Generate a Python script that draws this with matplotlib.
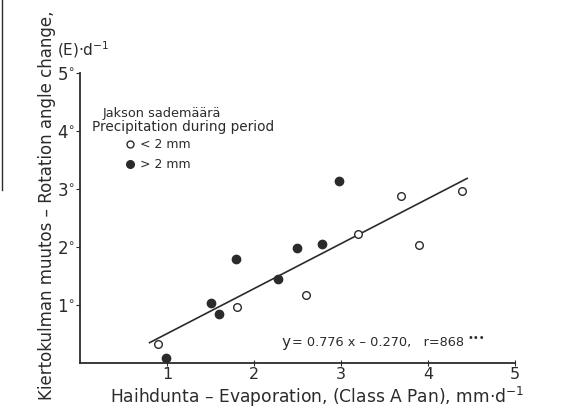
import numpy as np
import matplotlib
matplotlib.use('Agg')
import matplotlib.pyplot as plt
from matplotlib.lines import Line2D

# Haihdunta (mm/d) ja kiertokulman muutos (astetta/d)
x_vahan = [0.90, 1.80, 2.60, 3.20, 3.69, 3.90, 4.39]   # sade < 2 mm
y_vahan = [0.32, 0.97, 1.17, 2.22, 2.88, 2.03, 2.96]
x_paljon = [0.99, 1.50, 1.60, 1.79, 2.28, 2.49, 2.78, 2.98]   # sade > 2 mm
y_paljon = [0.08, 1.03, 0.84, 1.79, 1.44, 1.99, 2.06, 3.14]

# Regressiosuora
a, b = 0.776, -0.270
x_suora = [0.80, 4.45]

tikit = [1, 2, 3, 4, 5]
vari = '#2b2b2b'

fig = plt.figure(figsize=(5.72, 4.08), dpi=100)
ax = fig.add_axes([80/572, 45/408, 435/572, 290/408])

ax.plot(x_suora, [a*x + b for x in x_suora], color=vari, lw=1.2)
ax.plot(x_vahan, y_vahan, 'o', ms=5.5, mfc='white', mec=vari, mew=1.0, clip_on=False)
ax.plot(x_paljon, y_paljon, 'o', ms=6, mfc=vari, mec=vari, clip_on=False)

ax.set_xlim(0, 5)
ax.set_ylim(0, 5)
for s in ['top', 'right']:
    ax.spines[s].set_visible(False)
for s in ['left', 'bottom']:
    ax.spines[s].set_color(vari)
    ax.spines[s].set_linewidth(1.3)
ax.set_xticks(tikit)
ax.set_yticks(tikit)
ax.set_xticklabels([str(t) for t in tikit], fontsize=11.5, color=vari)
ax.set_yticklabels([str(t) + '$^{\\circ}$' for t in tikit], fontsize=12, color=vari)
ax.tick_params(axis='x', direction='inout', length=5, color=vari, pad=0.5)
ax.tick_params(axis='y', direction='out', length=3, color=vari, pad=0.5)

# Selite
ax.text(0.053, 0.862, 'Jakson sademäärä', transform=ax.transAxes,
        fontsize=9.3, color=vari, va='center')
ax.text(0.028, 0.814, 'Precipitation during period', transform=ax.transAxes,
        fontsize=9.8, color=vari, va='center')
kahvat = [Line2D([], [], ls='', marker='o', ms=5, mfc='white', mec=vari, mew=1.0),
          Line2D([], [], ls='', marker='o', ms=5.5, mfc=vari, mec=vari)]
ax.legend(kahvat, ['< 2 mm', '> 2 mm'], loc='upper left', bbox_to_anchor=(0.10, 0.775),
          frameon=False, fontsize=9, labelcolor=vari, handlelength=1.0,
          handletextpad=0.3, borderpad=0, borderaxespad=0, labelspacing=0.55)

ax.text(0.464, 0.069, 'y', transform=ax.transAxes, fontsize=11, color=vari, va='center')
ax.text(0.487, 0.069, '= 0.776 x – 0.270,   r=868', transform=ax.transAxes,
        fontsize=9.3, color=vari, va='center')
ax.text(0.891, 0.085, '•••', transform=ax.transAxes,
        fontsize=7, color=vari, va='center')

fig.text(317/572, 1 - 403/408, 'Haihdunta – Evaporation, (Class A Pan), mm·d$^{-1}$',
         fontsize=12.3, color=vari, ha='center', va='baseline')
fig.text(47/572, 1 - 205/408, 'Kiertokulman muutos – Rotation angle change,',
         rotation=90, fontsize=12, color=vari, ha='center', va='center')
fig.text(57/572, 1 - 50/408, '(E)·d$^{-1}$', fontsize=11, color=vari, ha='left', va='center')

# Viereisen kuvan reunaviiva
fig.add_artist(Line2D([2/572, 2/572], [1, 1 - 190/408], color=vari, lw=1.0))

fig.savefig('out.png', dpi=100, facecolor='white')
